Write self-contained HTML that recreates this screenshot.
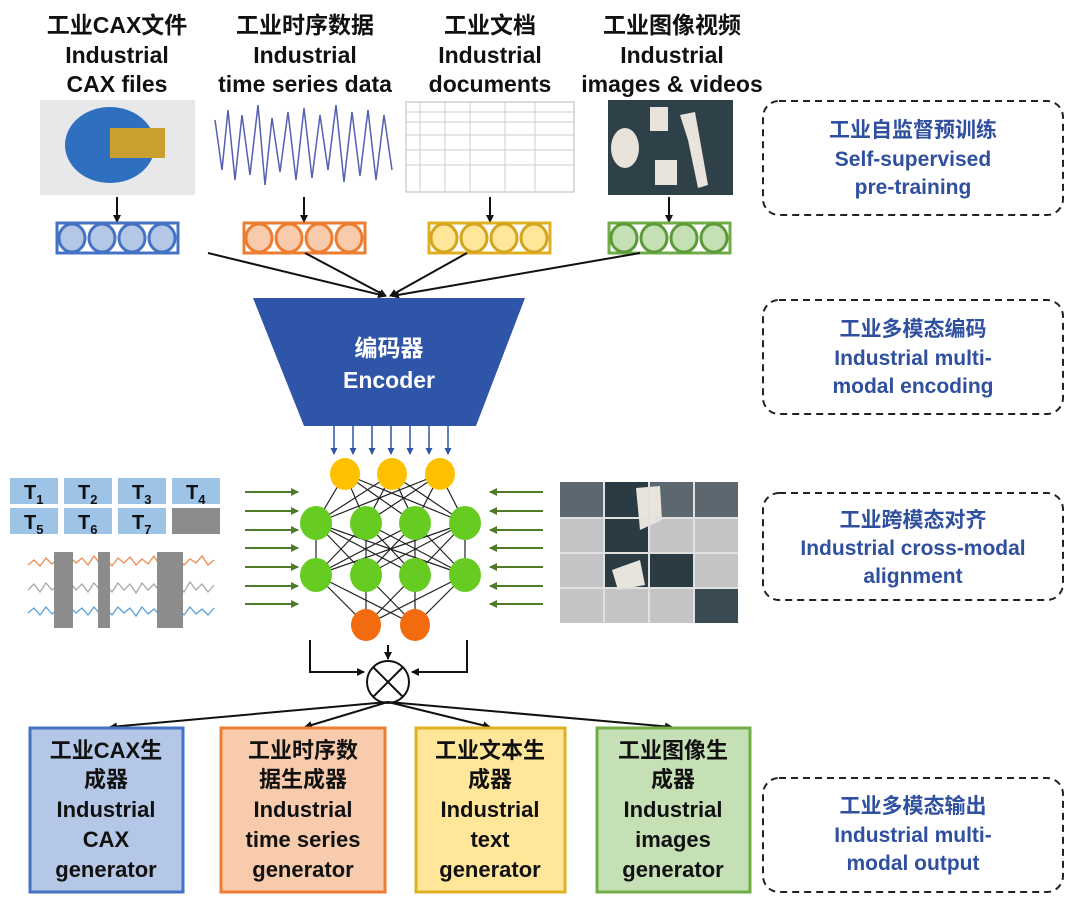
<!DOCTYPE html>
<html><head><meta charset="utf-8"><style>
html,body{margin:0;padding:0;background:#fff;}
svg{display:block;}
text{font-family:"Liberation Sans","Noto Sans CJK SC",sans-serif;font-weight:bold;}
</style></head><body>
<svg width="1080" height="908" viewBox="0 0 1080 908" xmlns="http://www.w3.org/2000/svg">
<defs>
<marker id="ab" markerWidth="8" markerHeight="8" refX="7" refY="4" orient="auto" markerUnits="userSpaceOnUse"><path d="M0,0 L8,4 L0,8 z" fill="#111"/></marker>
<marker id="abl" markerWidth="7" markerHeight="7" refX="6" refY="3.5" orient="auto" markerUnits="userSpaceOnUse"><path d="M0,0 L7,3.5 L0,7 z" fill="#2f55a8"/></marker>
<marker id="ag" markerWidth="8" markerHeight="8" refX="7" refY="4" orient="auto" markerUnits="userSpaceOnUse"><path d="M0,0 L8,4 L0,8 z" fill="#4e7a2a"/></marker>
</defs>
<!-- top titles -->
<g font-size="23" fill="#111" text-anchor="middle">
<text x="117" y="33">工业CAX文件</text><text x="117" y="63">Industrial</text><text x="117" y="92">CAX files</text>
<text x="305" y="33">工业时序数据</text><text x="305" y="63">Industrial</text><text x="305" y="92">time series data</text>
<text x="490" y="33">工业文档</text><text x="490" y="63">Industrial</text><text x="490" y="92">documents</text>
<text x="672" y="33">工业图像视频</text><text x="672" y="63">Industrial</text><text x="672" y="92">images &amp; videos</text>
</g>
<!-- images -->
<rect x="40" y="100" width="155" height="95" fill="#e8e8ea"/>
<ellipse cx="110" cy="145" rx="45" ry="38" fill="#2e6fc0"/>
<rect x="110" y="128" width="55" height="30" fill="#c9a030"/>
<polyline points="215,120 222,170 228,110 235,180 242,115 250,175 258,105 265,185 272,118 280,172 288,112 296,180 304,108 312,178 320,115 328,170 336,105 344,182 352,112 360,176 368,110 376,180 384,115 392,170" fill="none" stroke="#5560b0" stroke-width="1.5"/>
<rect x="406" y="102" width="168" height="90" fill="#fff" stroke="#bbb"/>
<g stroke="#ccc" stroke-width="1"><line x1="406" y1="112" x2="574" y2="112"/><line x1="406" y1="122" x2="574" y2="122"/><line x1="406" y1="135" x2="574" y2="135"/><line x1="406" y1="150" x2="574" y2="150"/><line x1="406" y1="165" x2="574" y2="165"/><line x1="420" y1="102" x2="420" y2="192"/><line x1="445" y1="102" x2="445" y2="192"/><line x1="470" y1="102" x2="470" y2="192"/><line x1="505" y1="102" x2="505" y2="192"/><line x1="535" y1="102" x2="535" y2="192"/></g>
<rect x="608" y="100" width="125" height="95" fill="#2f4148"/>
<ellipse cx="625" cy="148" rx="14" ry="20" fill="#e8e4dc"/><rect x="650" y="107" width="18" height="24" fill="#e8e4dc"/><path d="M680 115 L695 112 L700 140 L708 185 L698 188 L688 140 Z" fill="#e8e4dc"/><rect x="655" y="160" width="22" height="25" fill="#e8e4dc"/>
<!-- arrows to vectors -->
<g stroke="#111" stroke-width="2" marker-end="url(#ab)">
<line x1="117" y1="197" x2="117" y2="222"/><line x1="304" y1="197" x2="304" y2="222"/><line x1="490" y1="197" x2="490" y2="222"/><line x1="669" y1="197" x2="669" y2="222"/>
</g>
<!-- vectors -->
<g stroke-width="3">
<rect x="57" y="223" width="121" height="30" fill="#fff" stroke="#4472c4"/>
<g fill="#b4c7e7" stroke="#4472c4"><ellipse cx="72" cy="238" rx="13" ry="14"/><ellipse cx="102" cy="238" rx="13" ry="14"/><ellipse cx="132" cy="238" rx="13" ry="14"/><ellipse cx="162" cy="238" rx="13" ry="14"/></g>
<rect x="244" y="223" width="121" height="30" fill="#fff" stroke="#ed7d31"/>
<g fill="#f8cbad" stroke="#ed7d31"><ellipse cx="259" cy="238" rx="13" ry="14"/><ellipse cx="289" cy="238" rx="13" ry="14"/><ellipse cx="319" cy="238" rx="13" ry="14"/><ellipse cx="349" cy="238" rx="13" ry="14"/></g>
<rect x="429" y="223" width="121" height="30" fill="#fff" stroke="#e0b020"/>
<g fill="#ffe699" stroke="#d4a520"><ellipse cx="444" cy="238" rx="13" ry="14"/><ellipse cx="474" cy="238" rx="13" ry="14"/><ellipse cx="504" cy="238" rx="13" ry="14"/><ellipse cx="534" cy="238" rx="13" ry="14"/></g>
<rect x="609" y="223" width="121" height="30" fill="#fff" stroke="#70ad47"/>
<g fill="#c5e0b4" stroke="#5d9a3a"><ellipse cx="624" cy="238" rx="13" ry="14"/><ellipse cx="654" cy="238" rx="13" ry="14"/><ellipse cx="684" cy="238" rx="13" ry="14"/><ellipse cx="714" cy="238" rx="13" ry="14"/></g>
</g>
<g stroke="#111" stroke-width="2" marker-end="url(#ab)">
<line x1="208" y1="253" x2="385" y2="296"/><line x1="305" y1="253" x2="386" y2="296"/><line x1="467" y1="253" x2="390" y2="296"/><line x1="640" y1="253" x2="392" y2="296"/>
</g>
<!-- encoder -->
<polygon points="253,298 525,298 476,426 304,426" fill="#2f55a8"/>
<text x="389" y="356" font-size="23" fill="#fff" text-anchor="middle">编码器</text>
<text x="389" y="388" font-size="23" fill="#fff" text-anchor="middle">Encoder</text>
<g stroke="#2f55a8" stroke-width="1.5" marker-end="url(#abl)">
<line x1="334" y1="426" x2="334" y2="454"/><line x1="353" y1="426" x2="353" y2="454"/><line x1="372" y1="426" x2="372" y2="454"/><line x1="391" y1="426" x2="391" y2="454"/><line x1="410" y1="426" x2="410" y2="454"/><line x1="429" y1="426" x2="429" y2="454"/><line x1="448" y1="426" x2="448" y2="454"/>
</g>
<!-- network lines -->
<g stroke="#222" stroke-width="1.2">
<path d="M345 474L316 523M345 474L366 523M345 474L415 523M345 474L465 523M392 474L316 523M392 474L366 523M392 474L415 523M392 474L465 523M440 474L316 523M440 474L366 523M440 474L415 523M440 474L465 523"/>
<path d="M316 523L316 575M316 523L366 575M316 523L415 575M316 523L465 575M366 523L316 575M366 523L366 575M366 523L415 575M366 523L465 575M415 523L316 575M415 523L366 575M415 523L415 575M415 523L465 575M465 523L316 575M465 523L366 575M465 523L415 575M465 523L465 575"/>
<path d="M316 575L366 625M316 575L415 625M366 575L366 625M366 575L415 625M415 575L366 625M415 575L415 625M465 575L366 625M465 575L415 625"/>
</g>
<g fill="#ffc000"><ellipse cx="345" cy="474" rx="15" ry="16"/><ellipse cx="392" cy="474" rx="15" ry="16"/><ellipse cx="440" cy="474" rx="15" ry="16"/></g>
<g fill="#66cc22"><ellipse cx="316" cy="523" rx="16" ry="17"/><ellipse cx="366" cy="523" rx="16" ry="17"/><ellipse cx="415" cy="523" rx="16" ry="17"/><ellipse cx="465" cy="523" rx="16" ry="17"/>
<ellipse cx="316" cy="575" rx="16" ry="17"/><ellipse cx="366" cy="575" rx="16" ry="17"/><ellipse cx="415" cy="575" rx="16" ry="17"/><ellipse cx="465" cy="575" rx="16" ry="17"/></g>
<g fill="#f26b0f"><ellipse cx="366" cy="625" rx="15" ry="16"/><ellipse cx="415" cy="625" rx="15" ry="16"/></g>
<!-- green arrows -->
<g stroke="#4e7a2a" stroke-width="2" marker-end="url(#ag)">
<line x1="245" y1="492" x2="298" y2="492"/><line x1="245" y1="511" x2="298" y2="511"/><line x1="245" y1="530" x2="298" y2="530"/><line x1="245" y1="548" x2="298" y2="548"/><line x1="245" y1="567" x2="298" y2="567"/><line x1="245" y1="586" x2="298" y2="586"/><line x1="245" y1="604" x2="298" y2="604"/>
<line x1="543" y1="492" x2="490" y2="492"/><line x1="543" y1="511" x2="490" y2="511"/><line x1="543" y1="530" x2="490" y2="530"/><line x1="543" y1="548" x2="490" y2="548"/><line x1="543" y1="567" x2="490" y2="567"/><line x1="543" y1="586" x2="490" y2="586"/><line x1="543" y1="604" x2="490" y2="604"/>
</g>
<!-- T boxes -->
<g fill="#9dc3e6">
<rect x="10" y="478" width="48" height="26"/><rect x="64" y="478" width="48" height="26"/><rect x="118" y="478" width="48" height="26"/><rect x="172" y="478" width="48" height="26"/>
<rect x="10" y="508" width="48" height="26"/><rect x="64" y="508" width="48" height="26"/><rect x="118" y="508" width="48" height="26"/></g>
<rect x="172" y="508" width="48" height="26" fill="#8c8c8c"/>
<g font-size="20" fill="#111" font-weight="normal">
<text x="24" y="499">T<tspan font-size="13" dy="5">1</tspan></text><text x="78" y="499">T<tspan font-size="13" dy="5">2</tspan></text><text x="132" y="499">T<tspan font-size="13" dy="5">3</tspan></text><text x="186" y="499">T<tspan font-size="13" dy="5">4</tspan></text>
<text x="24" y="529">T<tspan font-size="13" dy="5">5</tspan></text><text x="78" y="529">T<tspan font-size="13" dy="5">6</tspan></text><text x="132" y="529">T<tspan font-size="13" dy="5">7</tspan></text>
</g>
<g fill="none" stroke-width="1.3">
<polyline stroke="#ed8a50" points="28,565 34,560 40,566 46,558 52,564 58,559 64,566 70,557 76,563 82,558 88,565 94,556 100,564 106,559 112,566 118,558 124,563 130,557 136,565 142,559 148,564 154,556 160,566 166,559 172,564 178,557 184,565 190,559 196,563 202,556 208,565 214,560"/>
<polyline stroke="#a8a8a8" points="28,590 34,584 40,592 46,583 52,590 58,585 64,593 70,582 76,590 82,584 88,592 94,583 100,590 106,585 112,592 118,583 124,590 130,584 136,593 142,583 148,590 154,584 160,592 166,583 172,590 178,585 184,592 190,582 196,590 202,584 208,592 214,585"/>
<polyline stroke="#5aa0d8" points="28,613 34,608 40,615 46,607 52,614 58,609 64,616 70,607 76,613 82,608 88,615 94,607 100,614 106,609 112,615 118,607 124,613 130,608 136,616 142,607 148,614 154,609 160,615 166,607 172,613 178,608 184,615 190,607 196,614 202,609 208,615 214,608"/>
</g>
<g fill="#8c8c8c"><rect x="54" y="552" width="19" height="76"/><rect x="98" y="552" width="12" height="76"/><rect x="157" y="552" width="26" height="76"/></g>
<!-- right grid image -->
<rect x="560" y="482" width="178" height="141" fill="#c4c4c6"/>
<rect x="560" y="482" width="178" height="36" fill="#5d6770"/>
<rect x="604" y="482" width="45" height="106" fill="#2a3b44"/><rect x="649" y="553" width="45" height="35" fill="#2a3b44"/><rect x="694" y="588" width="44" height="35" fill="#3a4a52"/>
<path d="M636 488 L660 486 L662 520 L640 530 Z" fill="#e8e4dc"/><path d="M612 570 L640 560 L645 585 L618 590 Z" fill="#e8e4dc"/>
<g stroke="#e0e0e0" stroke-width="2"><line x1="604" y1="482" x2="604" y2="623"/><line x1="649" y1="482" x2="649" y2="623"/><line x1="694" y1="482" x2="694" y2="623"/><line x1="560" y1="518" x2="738" y2="518"/><line x1="560" y1="553" x2="738" y2="553"/><line x1="560" y1="588" x2="738" y2="588"/></g>
<!-- combine -->
<g stroke="#111" stroke-width="2" fill="none">
<polyline points="310,640 310,672 364,672" marker-end="url(#ab)"/>
<polyline points="467,640 467,672 412,672" marker-end="url(#ab)"/>
<line x1="388" y1="645" x2="388" y2="659" marker-end="url(#ab)"/>
<circle cx="388" cy="682" r="21" fill="#fff"/>
<line x1="373" y1="667" x2="403" y2="697"/><line x1="403" y1="667" x2="373" y2="697"/>
</g>
<g stroke="#111" stroke-width="2" marker-end="url(#ab)">
<line x1="388" y1="702" x2="110" y2="727"/><line x1="388" y1="702" x2="305" y2="727"/><line x1="388" y1="702" x2="490" y2="727"/><line x1="388" y1="702" x2="672" y2="727"/>
</g>
<!-- output boxes -->
<rect x="30" y="728" width="153" height="164" fill="#b4c7e7" stroke="#4472c4" stroke-width="3"/>
<rect x="221" y="728" width="164" height="164" fill="#f8cbad" stroke="#ed7d31" stroke-width="3"/>
<rect x="416" y="728" width="149" height="164" fill="#ffe699" stroke="#e0b020" stroke-width="3"/>
<rect x="597" y="728" width="153" height="164" fill="#c5e0b4" stroke="#70ad47" stroke-width="3"/>
<g font-size="22" fill="#111" text-anchor="middle">
<text x="106" y="758">工业CAX生</text><text x="106" y="787">成器</text><text x="106" y="817">Industrial</text><text x="106" y="847">CAX</text><text x="106" y="877">generator</text>
<text x="303" y="758">工业时序数</text><text x="303" y="787">据生成器</text><text x="303" y="817">Industrial</text><text x="303" y="847">time series</text><text x="303" y="877">generator</text>
<text x="490" y="758">工业文本生</text><text x="490" y="787">成器</text><text x="490" y="817">Industrial</text><text x="490" y="847">text</text><text x="490" y="877">generator</text>
<text x="673" y="758">工业图像生</text><text x="673" y="787">成器</text><text x="673" y="817">Industrial</text><text x="673" y="847">images</text><text x="673" y="877">generator</text>
</g>
<!-- right dashed boxes -->
<g fill="none" stroke="#222" stroke-width="2" stroke-dasharray="7,5">
<rect x="763" y="101" width="300" height="114" rx="16"/>
<rect x="763" y="300" width="300" height="114" rx="16"/>
<rect x="763" y="493" width="300" height="107" rx="16"/>
<rect x="763" y="778" width="300" height="114" rx="16"/>
</g>
<g font-size="21" fill="#2f4f9f" text-anchor="middle">
<text x="913" y="137">工业自监督预训练</text><text x="913" y="166">Self-supervised</text><text x="913" y="194">pre-training</text>
<text x="913" y="336">工业多模态编码</text><text x="913" y="365">Industrial multi-</text><text x="913" y="393">modal encoding</text>
<text x="913" y="527">工业跨模态对齐</text><text x="913" y="555">Industrial cross-modal</text><text x="913" y="583">alignment</text>
<text x="913" y="813">工业多模态输出</text><text x="913" y="842">Industrial multi-</text><text x="913" y="870">modal output</text>
</g>
</svg>
</body></html>
